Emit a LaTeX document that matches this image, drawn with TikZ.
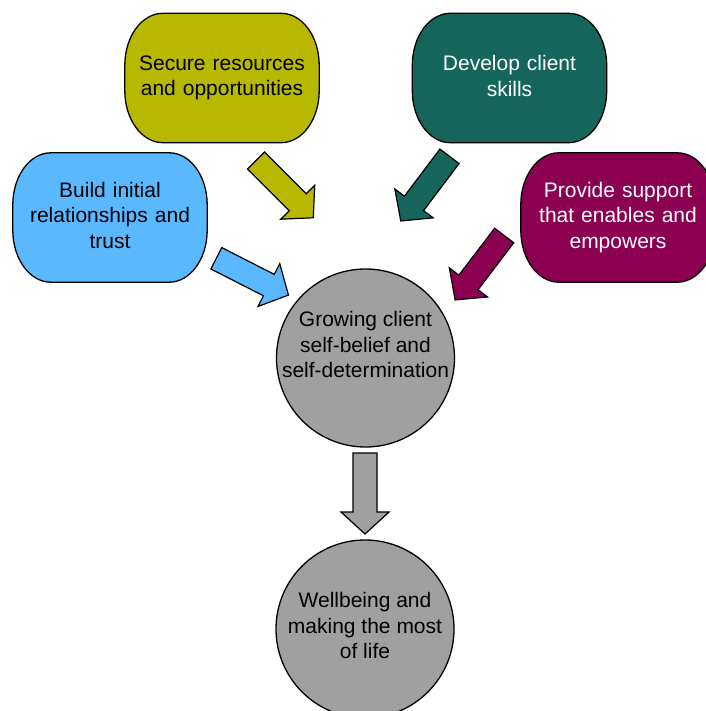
\documentclass[tikz,border=0pt]{standalone}
\usepackage{fontspec}
\setmainfont{Liberation Sans}
\usetikzlibrary{backgrounds}
\definecolor{cyellow}{RGB}{184,184,0}
\definecolor{cteal}{RGB}{22,101,90}
\definecolor{cblue}{RGB}{90,184,255}
\definecolor{cmaroon}{RGB}{140,0,82}
\definecolor{cgray}{RGB}{160,160,160}
\newcommand{\blkarrow}[3]{\draw[arrowline,fill=#3,shift={(#1)},rotate=#2] (0,12) -- (59,12) -- (59,24) -- (81,0) -- (59,-24) -- (59,-12) -- (0,-12) -- cycle;}
\newcommand{\rbox}[2]{\draw[boxline,fill=#2] ([xshift=38pt]#1.north west) -- ([xshift=-38pt]#1.north east) arc[start angle=90,end angle=0,x radius=38pt,y radius=52pt] -- ([yshift=52pt]#1.south east) arc[start angle=0,end angle=-90,x radius=38pt,y radius=52pt] -- ([xshift=38pt]#1.south west) arc[start angle=270,end angle=180,x radius=38pt,y radius=52pt] -- ([yshift=-52pt]#1.north west) arc[start angle=180,end angle=90,x radius=38pt,y radius=52pt] -- cycle;}
\begin{document}
\begin{tikzpicture}[x=1pt,y=-1pt,
  box/.style={minimum width=194pt,minimum height=129pt,inner sep=0pt,text width=180pt,align=center,font=\fontsize{21}{25.5}\selectfont},
  boxline/.style={draw=black,line width=1.3pt},
  disc/.style={draw=black,line width=1.3pt,circle,fill=cgray,minimum size=178pt,inner sep=0pt},
  disctext/.style={align=center,inner sep=0pt,font=\fontsize{21}{25.5}\selectfont},
  arrowline/.style={draw=black,line width=1.2pt,line join=miter}]
\useasboundingbox (0,0) rectangle (705,711);
\clip (0,0) rectangle (705,711);
\node[box,text=black] (secure) at (222,78) {Secure resources\\and opportunities};
\node[box,text=white] (develop) at (509.5,78) {Develop client\\skills\vphantom{p}};
\node[box,text=black] (build) at (110,217.5) {Build initial\\relationships and\\trust\vphantom{p}};
\node[box,text=white] (provide) at (618,217.5) {Provide support\\that enables and\\empowers};
\begin{scope}[on background layer]
\rbox{secure}{cyellow}
\rbox{develop}{cteal}
\rbox{build}{cblue}
\rbox{provide}{cmaroon}
\end{scope}
\node[disc] (grow) at (365.5,358) {};
\node[disctext] (growt) at (365.5,344.5) {Growing client\\self-belief and\\self-determination};
\node[disc] (well) at (365,629) {};
\node[disctext] (wellt) at (365,625.5) {Wellbeing and\\making the most\\of life};
\coordinate (ya) at (256,160.5);
\coordinate (ta) at (449.5,156.3);
\coordinate (ba) at (216.3,258.3);
\coordinate (ma) at (504.2,235.5);
\coordinate (ga) at (365,453);
\blkarrow{ya}{-45}{cyellow}
\blkarrow{ta}{-127}{cteal}
\blkarrow{ba}{-27}{cblue}
\blkarrow{ma}{-127.3}{cmaroon}
\blkarrow{ga}{-90}{cgray}
\end{tikzpicture}
\end{document}
